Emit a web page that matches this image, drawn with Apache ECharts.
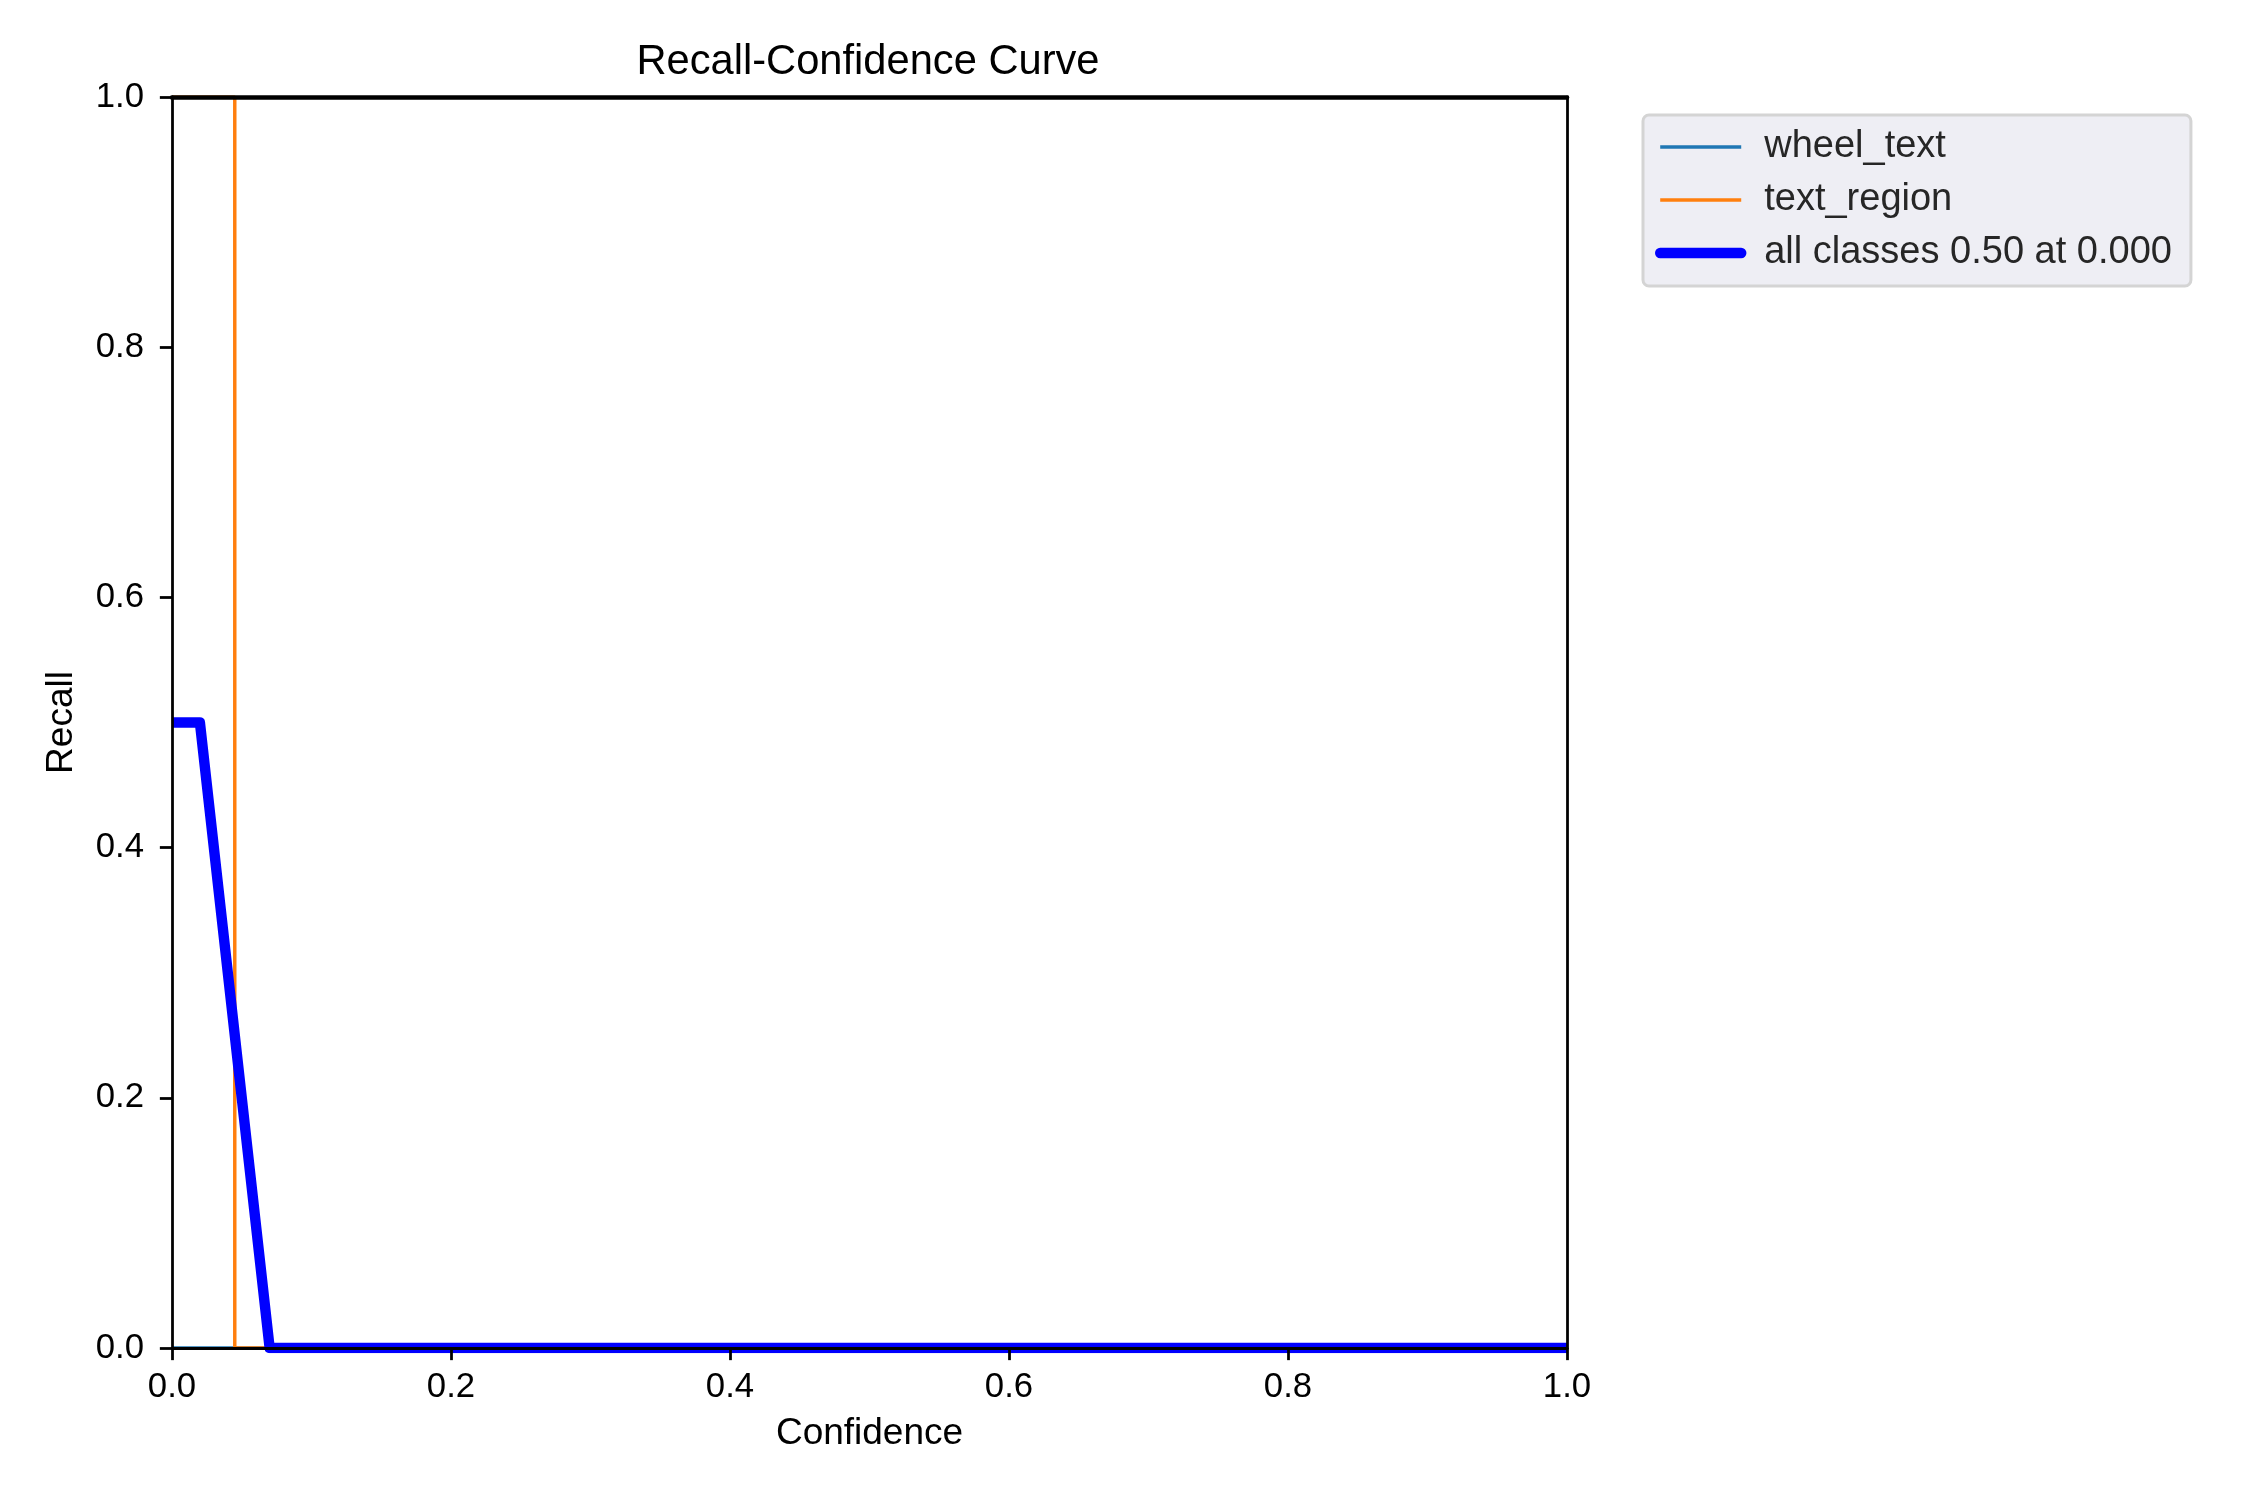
<!DOCTYPE html>
<html>
<head>
<meta charset="utf-8">
<script src="https://cdn.jsdelivr.net/npm/echarts@6/dist/echarts.min.js"></script>
<style>
  html, body { margin: 0; padding: 0; background: #fff; }
  #main { width: 2250px; height: 1500px; }
</style>
</head>
<body>
<div id="main"></div>
<script>
// data
var classNames = ['wheel_text', 'text_region', 'all classes 0.50 at 0.000']
var wheelConf = [0, 1]
var wheelRecall = [0, 0]
var regionConf = [0, 0.045, 0.045, 1]
var regionRecall = [1, 1, 0, 0]
var allConf = [0, 0.02, 0.07, 1]
var allRecall = [0.5, 0.5, 0, 0]
var tickValues = [0, 0.2, 0.4, 0.6, 0.8, 1]

function pairs (xs, ys) {
  return xs.map(function (x, i) { return [x, ys[i]] })
}

var FONT = '"Liberation Sans", Arial, Helvetica, sans-serif'
var PT = 250 / 72

var myChart = echarts.init(document.getElementById('main'), null, { renderer: 'canvas' })

var tickFmt = function (v) { return v.toFixed(1) }

function valueAxis (pos, show, lw) {
  return {
    type: 'value',
    position: pos,
    min: tickValues[0],
    max: tickValues[tickValues.length - 1],
    interval: 0.2,
    z: 10,
    splitLine: { show: false },
    axisLine: { show: true, onZero: false, lineStyle: { color: '#000', width: lw || 0.8 * PT } },
    axisTick: { show: show, inside: false, length: 3.5 * PT, lineStyle: { color: '#000', width: 0.8 * PT } },
    axisLabel: { show: show, formatter: tickFmt, color: '#000', fontSize: 10 * PT, fontFamily: FONT }
  }
}

var xBottom = valueAxis('bottom', true)
xBottom.axisLabel.margin = 22
xBottom.name = 'Confidence'
xBottom.nameLocation = 'middle'
xBottom.nameGap = 67
xBottom.nameTextStyle = { color: '#000', fontSize: 37, fontFamily: FONT }

var yLeft = valueAxis('left', true)
yLeft.axisLabel.margin = 28
yLeft.name = 'Recall'
yLeft.nameLocation = 'middle'
yLeft.nameGap = 92
yLeft.nameTextStyle = { color: '#000', fontSize: 37, fontFamily: FONT }

var option = {
  backgroundColor: '#fff',
  animation: false,
  title: {
    text: 'Recall-Confidence Curve',
    left: 863,
    top: 37,
    textAlign: 'center',
    textStyle: { color: '#000', fontSize: 12 * PT, fontWeight: 'normal', fontFamily: FONT }
  },
  grid: { left: 172, top: 97, width: 1395, height: 1251, containLabel: false },
  xAxis: [xBottom, valueAxis('top', false, 4.6)],
  yAxis: [yLeft, valueAxis('right', false)],
  legend: {
    orient: 'vertical',
    left: 1643,
    top: 115,
    padding: [13, 19, 14, 12],
    itemWidth: 81,
    itemHeight: 24,
    itemGap: 15,
    backgroundColor: '#eeeef4',
    borderColor: '#d4d4d4',
    borderWidth: 3,
    borderRadius: 6,
    itemStyle: { opacity: 0 },
    textStyle: { color: '#262626', fontSize: 38, lineHeight: 38, fontFamily: FONT, padding: [0, 0, 0, 18] },
    data: [
      { name: classNames[0], lineStyle: { width: PT } },
      { name: classNames[1], lineStyle: { width: PT } },
      { name: classNames[2], lineStyle: { width: 3 * PT, cap: 'round' } }
    ]
  },
  series: [
    {
      name: classNames[0],
      type: 'line',
      symbol: 'none',
      data: pairs(wheelConf, wheelRecall),
      lineStyle: { color: '#1f77b4', width: PT },
      itemStyle: { color: '#1f77b4' },
      z: 2
    },
    {
      name: classNames[1],
      type: 'line',
      symbol: 'none',
      data: pairs(regionConf, regionRecall),
      lineStyle: { color: '#ff7f0e', width: PT },
      itemStyle: { color: '#ff7f0e' },
      z: 2
    },
    {
      name: classNames[2],
      type: 'line',
      symbol: 'none',
      data: pairs(allConf, allRecall),
      lineStyle: { color: '#0000ff', width: 3 * PT, join: 'round' },
      itemStyle: { color: '#0000ff' },
      z: 3
    }
  ]
}

myChart.setOption(option)
</script>
</body>
</html>
